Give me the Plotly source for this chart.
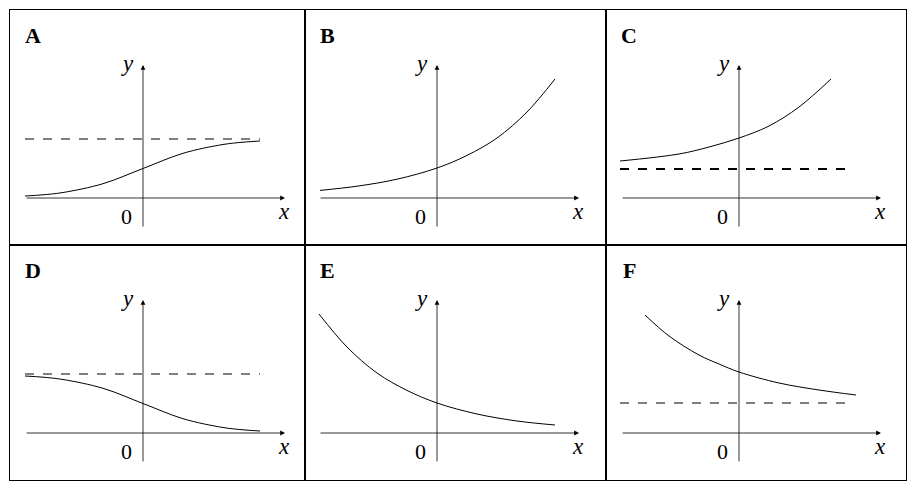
import plotly.graph_objects as go
from plotly.subplots import make_subplots

# panel letters, in grid order
panels = ['A', 'B', 'C', 'D', 'E', 'F']

# curve samples (x, y relative to the drawn origin)
curve_x = {
    'A': [-118, -100, -80, -40, 0, 40, 80, 100, 117],
    'B': [-117, -80, -40, 0, 30, 60, 90, 118],
    'C': [-119, -60, -30, 0, 30, 60, 92],
    'D': [-118, -100, -80, -40, 0, 40, 80, 100, 117],
    'E': [-118, -90, -60, -30, 0, 40, 80, 118],
    'F': [-94, -70, -40, -20, 0, 40, 80, 117],
}
curve_y = {
    'A': [2, 3.2, 5.5, 14.3, 29.5, 44.7, 53.5, 55.8, 57],
    'B': [7.6, 11.8, 18.8, 30, 42.6, 60, 86, 119],
    'C': [37, 44, 51, 60, 72, 91, 119],
    'D': [57, 55.8, 53.5, 44.7, 29.5, 14.3, 5.5, 3.2, 2],
    'E': [119, 86, 60, 42.6, 30, 19, 12, 8],
    'F': [118, 97, 78, 69, 61, 50, 43, 38],
}
# horizontal asymptotes: (level, x from, x to, width)
asymptote = {
    'A': (59, -118, 117, 1),
    'C': (29, -119, 111, 1.8),
    'D': (59, -118, 117, 1),
    'F': (30, -119, 111, 1),
}

x_ranges = [(-133, 162), (-132, 169), (-133, 167)]
y_range = (-47, 188)

fig = make_subplots(rows=2, cols=3, horizontal_spacing=0, vertical_spacing=0,
                    column_widths=[295, 301, 300])

serif = 'Liberation Serif'
for i, p in enumerate(panels):
    r, c = i // 3 + 1, i % 3 + 1
    n = '' if i == 0 else str(i + 1)
    fig.add_trace(go.Scatter(x=curve_x[p], y=curve_y[p], mode='lines',
                             line=dict(color='black', width=1, shape='spline', smoothing=1),
                             showlegend=False, hoverinfo='skip'), row=r, col=c)
    if p in asymptote:
        lv, a, b, w = asymptote[p]
        fig.add_trace(go.Scatter(x=[a, b], y=[lv, lv], mode='lines',
                                 line=dict(color='black', width=w, dash='dash'),
                                 showlegend=False, hoverinfo='skip'), row=r, col=c)
    xr, yr = 'x' + n, 'y' + n
    # axes with arrows
    fig.add_annotation(x=142, y=0, ax=-118, ay=0, xref=xr, yref=yr, axref=xr, ayref=yr,
                       showarrow=True, arrowhead=2, arrowsize=1.2, arrowwidth=0.8,
                       arrowcolor='black', text='')
    fig.add_annotation(x=0, y=133, ax=0, ay=-30, xref=xr, yref=yr, axref=xr, ayref=yr,
                       showarrow=True, arrowhead=2, arrowsize=1.2, arrowwidth=0.8,
                       arrowcolor='black', text='')
    fig.add_annotation(x=-16, y=135, xref=xr, yref=yr, text='<i>y</i>', showarrow=False,
                       font=dict(family=serif, size=23, color='black'))
    fig.add_annotation(x=141, y=-13, xref=xr, yref=yr, text='<i>x</i>', showarrow=False,
                       font=dict(family=serif, size=23, color='black'))
    fig.add_annotation(x=-17, y=-18, xref=xr, yref=yr, text='0', showarrow=False,
                       font=dict(family=serif, size=22, color='black'))
    fig.add_annotation(x=-110, y=163, xref=xr, yref=yr, text='<b>' + p + '</b>',
                       showarrow=False, font=dict(family=serif, size=22, color='black'))
    fig.update_xaxes(range=list(x_ranges[c - 1]), row=r, col=c)
    fig.update_yaxes(range=list(y_range), row=r, col=c)

fig.update_xaxes(showgrid=False, zeroline=False, showticklabels=False, ticks='',
                 showline=True, mirror=True, linecolor='black', linewidth=1)
fig.update_yaxes(showgrid=False, zeroline=False, showticklabels=False, ticks='',
                 showline=True, mirror=True, linecolor='black', linewidth=1)
# page body adds 8px offset, so margins are reduced accordingly
fig.update_layout(width=918, height=491, margin=dict(l=2, r=20, t=2, b=19),
                  plot_bgcolor='white', paper_bgcolor='white')
fig.write_html('out.html')
